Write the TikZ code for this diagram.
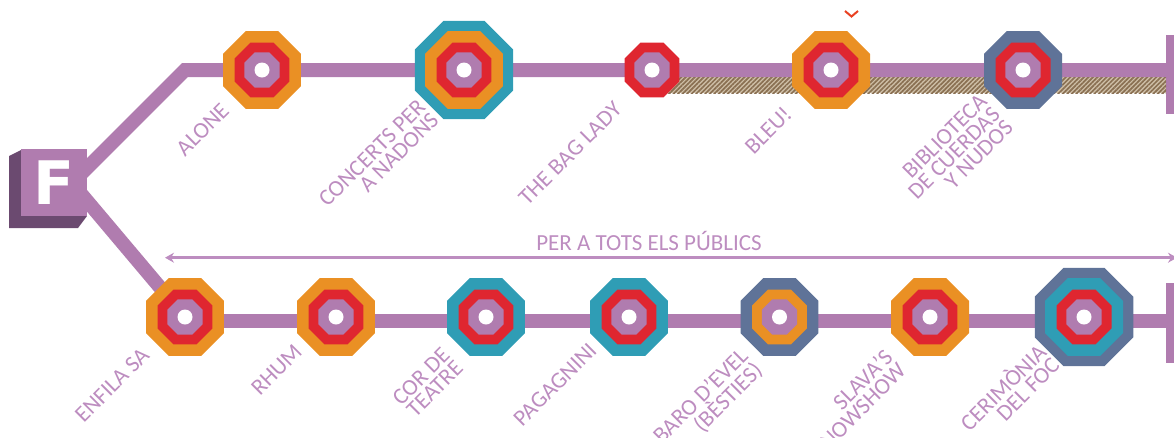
\documentclass[tikz,border=0pt]{standalone}
\usepackage{fontspec}
\setmainfont{Carlito}
\newfontfamily\boxfont{DejaVu Sans}
\usetikzlibrary{shapes.geometric, arrows.meta, patterns.meta}

\definecolor{linePurple}{HTML}{B07CAF}
\definecolor{textPurple}{HTML}{BD8DC0}
\definecolor{boxShadow}{HTML}{6B4A70}
\definecolor{stOrange}{HTML}{EA9024}
\definecolor{stRed}{HTML}{DF2630}
\definecolor{stTeal}{HTML}{2F9DB5}
\definecolor{stSlate}{HTML}{5F7398}
\definecolor{hatchLight}{HTML}{CFC0A8}
\definecolor{hatchDark}{HTML}{8A7052}

\begin{document}
\begin{tikzpicture}[x=1pt, y=-1pt]
  \tikzstyle{ring} = [regular polygon, regular polygon sides=8, inner sep = 0pt, outer sep = 0pt]
  \tikzstyle{ringBig} = [ring, minimum size = 106.6pt]
  \tikzstyle{ringMid} = [ring, minimum size = 84.4pt]
  \tikzstyle{ringRed} = [ring, fill=stRed, minimum size = 59.5pt]
  \tikzstyle{ringCore} = [ring, fill=linePurple, minimum size = 38pt]
  \tikzstyle{hole} = [circle, fill=white, inner sep = 0pt, minimum size = 15pt]
  \tikzstyle{lineF} = [line width = 14pt, linePurple, line join=miter]
  \tikzstyle{endBar} = [rectangle, fill=linePurple, inner sep = 0pt, minimum width = 8pt]
  \tikzstyle{showName} = [text=textPurple, rotate=45, align=right, font=\fontsize{23}{18.5}\selectfont, inner sep = 0pt]

  \useasboundingbox (0,0) rectangle (1174,437);
  \clip (0,0) rectangle (1174,437);

  % Stops of both lines
  \foreach \st/\x/\y in {alone/262/70, concerts/464/70, bagLady/652/70, bleu/831/70, biblio/1023/70,
                         enfila/185/317, rhum/336/317, cor/486/317, paga/629/317, baro/779.5/317,
                         slava/930/317, cerimonia/1084/317}
    \coordinate (\st) at (\x, \y);

  \coordinate (fork) at (72, 183);
  \coordinate (bend) at (185, 70);
  \coordinate (topEnd) at (1168, 70);
  \coordinate (bottomEnd) at (1168, 320.5);
  \coordinate (arrowLeft) at (165, 257.7);
  \coordinate (arrowRight) at (1177, 257.7);

  \node[endBar, minimum height = 79pt] (endTop) at (1170, 74.5) {};
  \node[endBar, minimum height = 80pt] (endBottom) at (1170, 323) {};

  % Hatched stretch under the top line
  \path[fill=hatchLight] (652, 77) rectangle (1166, 93);
  \path[pattern={Lines[angle=45, distance=3.2pt, line width=1.7pt]}, pattern color=hatchDark] (652, 77) rectangle (1166, 93);

  % Connections
  \draw[lineF] (fork) -- (bend) -- (alone) -- (concerts) -- (bagLady) -- (bleu) -- (biblio) -- (topEnd);
  \draw[lineF] (fork) -- (enfila);
  \foreach \a/\b in {enfila/rhum, rhum/cor, cor/paga, paga/baro, baro/slava, slava/cerimonia}
    \draw[lineF] ([yshift=-3.5pt]\a) -- ([yshift=-3.5pt]\b);
  \draw[lineF] ([yshift=-3.5pt]cerimonia) -- (bottomEnd);

  % Box with the letter
  \path[fill=boxShadow] (21, 150) -- (9, 156) -- (9, 228) -- (78, 228) -- (87, 216) -- cycle;
  \node[rectangle, fill=linePurple, inner sep = 0pt, minimum width = 66pt, minimum height = 67pt,
        text=white, font=\boxfont\bfseries\fontsize{60}{60}\selectfont] (boxF) at (54, 182.5) {F};

  % Outer rings
  \foreach \st/\x/\y/\col in {concerts/464/70/stTeal, cerimonia/1084/317/stSlate}
    \node[ringBig, fill=\col] (\st-big) at (\x, \y) {};

  % Middle rings
  \foreach \st/\x/\y/\col in {alone/262/70/stOrange, concerts/464/70/stOrange, bleu/831/70/stOrange,
                              biblio/1023/70/stSlate, enfila/185/317/stOrange, rhum/336/317/stOrange,
                              cor/486/317/stTeal, paga/629/317/stTeal, baro/779.5/317/stSlate,
                              slava/930/317/stOrange, cerimonia/1084/317/stTeal}
    \node[ringMid, fill=\col] (\st-mid) at (\x, \y) {};

  % Red rings
  \foreach \st/\x/\y in {alone/262/70, concerts/464/70, bagLady/652/70, bleu/831/70, biblio/1023/70,
                         enfila/185/317, rhum/336/317, cor/486/317, paga/629/317, slava/930/317,
                         cerimonia/1084/317}
    \node[ringRed] (\st-red) at (\x, \y) {};
  \node[ringRed, fill=stOrange] (baro-red) at (779.5, 317) {};

  % Centres
  \foreach \st/\x/\y in {alone/262/70, concerts/464/70, bagLady/652/70, bleu/831/70, biblio/1023/70,
                         enfila/185/317, rhum/336/317, cor/486/317, paga/629/317, baro/779.5/317,
                         slava/930/317, cerimonia/1084/317}
    {
    \node[ringCore] (\st-core) at (\x, \y) {};
    \node[hole] (\st-hole) at (\x, \y) {};
    }

  % Range arrow
  \draw[line width = 2.6pt, textPurple, {Stealth[length=9pt, width=10pt]}-{Stealth[length=9pt, width=10pt]}] (arrowLeft) -- (arrowRight);
  \node[text=textPurple, font=\fontsize{23}{23}\selectfont, inner sep = 0pt] (range) at (649, 241) {PER A TOTS ELS PÚBLICS};

  % Red mark at the top
  \coordinate (markLeft) at (845, 11);
  \coordinate (markTip) at (851.5, 16.5);
  \coordinate (markRight) at (858, 11);
  \draw[line width = 2pt, stRed!70!orange] (markLeft) -- (markTip) -- (markRight);

  % Show names
  \node[showName] (nameAlone) at (202.5, 129.5) {ALONE};
  \node[showName] (nameConcerts) at (378.5, 159.5) {CONCERTS PER\\A NADONS};
  \node[showName] (nameBagLady) at (570, 153.5) {THE BAG LADY};
  \node[showName] (nameBleu) at (768, 130) {BLEU!};
  \node[showName] (nameBiblio) at (954, 153) {BIBLIOTECA\\DE CUERDAS\\Y NUDOS};
  \node[showName] (nameEnfila) at (112, 385) {ENFILA SA};
  \node[showName] (nameRhum) at (276.5, 370) {RHUM};
  \node[showName] (nameCor) at (427.5, 383) {COR DE\\TEATRE};
  \node[showName] (namePaga) at (555, 384.5) {PAGAGNINI};
  \node[showName, anchor=east] (nameBaro) at (752, 360) {BARO D'EVEL\\(BÈSTIES)};
  \node[showName, anchor=east] (nameSlava) at (895, 360) {SLAVA'S\\SNOWSHOW};
  \node[showName] (nameCerimonia) at (1008.5, 393) {CERIMÒNIA\\DEL FOC};

\end{tikzpicture}
\end{document}
